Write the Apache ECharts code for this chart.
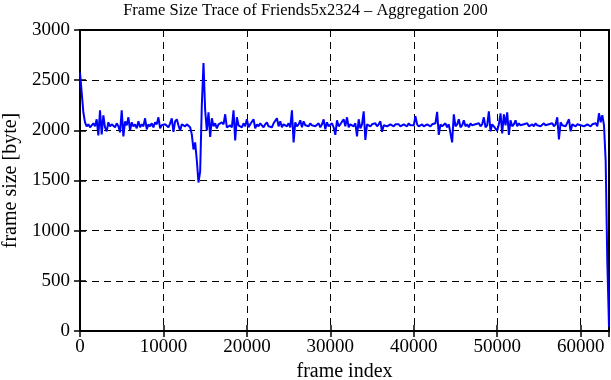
<!DOCTYPE html>
<html>
<head>
<meta charset="utf-8">
<script src="https://cdn.jsdelivr.net/npm/echarts@6/dist/echarts.min.js"></script>
<style>html,body{margin:0;padding:0;background:#fff}#c{width:611px;height:380px}</style>
</head>
<body>
<div id="c"></div>
<script>
const titleText = "Frame Size Trace of Friends5x2324 \u2013 Aggregation 200";
const xAxisName = "frame index";
const yAxisName = "frame size [byte]";
const aggregation = 200;           // frames per point
const xMax = 63400;
const xTicks = [0, 10000, 20000, 30000, 40000, 50000, 60000];
const yTicks = [0, 500, 1000, 1500, 2000, 2500, 3000];
// frame size (bytes) of each aggregated point
const frameSize = [
  2575, 2380, 2180, 2080, 2040, 2060, 2030, 2050, 2070, 2040,
  2110, 1950, 2200, 1960, 2150, 2030, 1990, 2080, 2040, 2060,
  2050, 2030, 2070, 2040, 1980, 2200, 1940, 2090, 2050, 2130,
  2000, 2080, 2040, 2060, 2020, 2090, 2030, 2060, 2040, 2120,
  2010, 2060, 2040, 2070, 2030, 2080, 2060, 2130, 2020, 2050,
  2040, 2060, 2050, 2030, 2070, 2120, 1985, 2090, 2110, 2050,
  1995, 2060, 2050, 2040, 2060, 2050, 2030, 1960, 1810, 1880,
  1700, 1480, 1590, 2250, 2670, 2200, 2000, 2180, 1935, 2120,
  2040, 2070, 2020, 2060, 2050, 2080, 2060, 2160, 2030, 2040,
  2050, 2030, 2200, 1900, 2130, 2050, 2060, 2030, 2070, 2040,
  2110, 2030, 2060, 2050, 2110, 2020, 2060, 2040, 2070, 2050,
  2030, 2060, 2080, 2040, 2050, 2030, 2070, 2060, 2120, 2040,
  2090, 2030, 2060, 2050, 2040, 2070, 2030, 2200, 1880, 2080,
  2040, 2060, 2100, 2030, 2090, 2050, 2060, 2040, 2070, 2050,
  2060, 2040, 2050, 2070, 2030, 2060, 2110, 2010, 2080, 2040,
  2050, 2070, 2030, 1955, 2100, 2040, 2060, 2050, 2110, 2040,
  2130, 2030, 2060, 2050, 2040, 2070, 1940, 2110, 2020, 2060,
  2190, 1905, 2060, 2050, 2040, 2060, 2050, 2070, 2040, 2060,
  2090, 1985, 2050, 2060, 2040, 2050, 2060, 2050, 2040, 2060,
  2050, 2060, 2040, 2050, 2060, 2050, 2040, 2070, 2050, 2060,
  2050, 2140, 2060, 2040, 2050, 2060, 2040, 2050, 2060, 2050,
  2040, 2060, 2050, 2070, 2185, 1955, 2060, 2040, 2050, 2070,
  2030, 2060, 2050, 1880, 2160, 2040, 2060, 2110, 2030, 2050,
  2100, 2040, 2060, 2030, 2070, 2050, 2040, 2060, 2050, 2070,
  2040, 2060, 2130, 2030, 2050, 2190, 1990, 2060, 2040, 2050,
  1995, 2060, 2170, 1970, 2160, 2050, 2180, 1955, 2100, 2040,
  2060, 2100, 2040, 2070, 2050, 2040, 2060, 2050, 2070, 2040,
  2050, 2060, 2040, 2070, 2050, 2060, 2040, 2050, 2070, 2050,
  2040, 2060, 2050, 2070, 2040, 2060, 2130, 1910, 2080, 2050,
  2060, 2040, 2050, 2110, 1990, 2060, 2050, 2040, 2060, 2050,
  2050, 2060, 2040, 2050, 2060, 2050, 2040, 2060, 2050, 2070,
  2040, 2170, 2080, 2150, 2050, 1700, 680, 40
];

const serif = "'Liberation Serif', 'DejaVu Serif', 'Times New Roman', serif";
const points = frameSize.map((v, i) => [i * aggregation, v]);

const chart = echarts.init(document.getElementById('c'), null, {renderer: 'canvas'});
const tickStyle = {show: true, inside: true, length: 6, lineStyle: {color: '#000', width: 1.5}};
const dashed = {show: true, lineStyle: {color: '#000', width: 1, type: [7, 5]}};
chart.setOption({
  animation: false,
  backgroundColor: '#fff',
  title: {
    text: titleText, left: 'center', top: 2, padding: 0,
    textStyle: {fontFamily: serif, fontSize: 16.5, fontWeight: 'normal', color: '#000'}
  },
  grid: {left: 80, right: 2, top: 30, bottom: 49, containLabel: false, outerBoundsMode: 'none',
    show: true, borderColor: '#000', borderWidth: 2, backgroundColor: 'transparent'},
  xAxis: [{
    type: 'value', min: 0, max: xMax, interval: xTicks[1] - xTicks[0],
    name: xAxisName, nameLocation: 'middle', nameGap: 31,
    nameTextStyle: {fontFamily: serif, fontSize: 20, color: '#000'},
    axisLine: {show: false},
    axisTick: tickStyle,
    axisLabel: {fontFamily: serif, fontSize: 19, color: '#000', margin: 7, showMaxLabel: false,
      formatter: v => xTicks.includes(v) ? String(v) : ''},
    splitLine: dashed
  }, {
    type: 'value', min: 0, max: xMax, interval: xTicks[1] - xTicks[0], position: 'top',
    axisLine: {show: false}, axisTick: tickStyle, axisLabel: {show: false}, splitLine: {show: false}
  }],
  yAxis: [{
    type: 'value', min: 0, max: 3000, interval: yTicks[1] - yTicks[0],
    name: yAxisName, nameLocation: 'middle', nameGap: 57, nameRotate: 90,
    nameTextStyle: {fontFamily: serif, fontSize: 20, color: '#000'},
    axisLine: {show: false},
    axisTick: tickStyle,
    axisLabel: {fontFamily: serif, fontSize: 19, color: '#000', margin: 10,
      formatter: v => yTicks.includes(v) ? String(v) : ''},
    splitLine: dashed
  }, {
    type: 'value', min: 0, max: 3000, interval: yTicks[1] - yTicks[0], position: 'right',
    axisLine: {show: false}, axisTick: tickStyle, axisLabel: {show: false}, splitLine: {show: false}
  }],
  series: [{
    type: 'line', data: points, xAxisIndex: 0, yAxisIndex: 0,
    showSymbol: false, symbol: 'none', smooth: false,
    lineStyle: {color: '#0000ff', width: 2}
  }]
});
</script>
</body>
</html>
